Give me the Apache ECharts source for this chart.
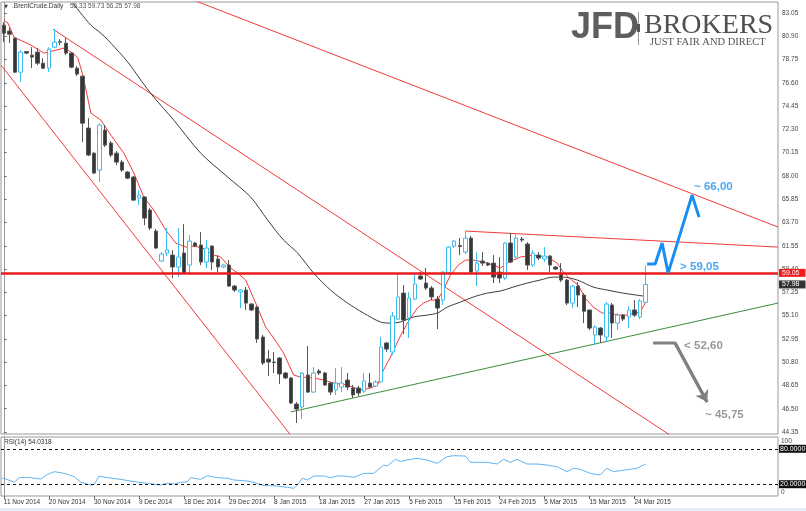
<!DOCTYPE html>
<html><head><meta charset="utf-8">
<script src="https://cdn.jsdelivr.net/npm/echarts@6/dist/echarts.min.js"></script>
<style>html,body{margin:0;padding:0;background:#fff}#c{width:806px;height:511px}</style>
</head><body><div id="c"></div>
<script>
// ---------- DATA ----------
const categories = [
 '11 Nov 2014','12 Nov 2014','13 Nov 2014','14 Nov 2014','16 Nov 2014','17 Nov 2014','18 Nov 2014','19 Nov 2014',
 '20 Nov 2014','21 Nov 2014','23 Nov 2014','24 Nov 2014','25 Nov 2014','26 Nov 2014','27 Nov 2014','28 Nov 2014',
 '30 Nov 2014','1 Dec 2014','2 Dec 2014','3 Dec 2014','4 Dec 2014','5 Dec 2014','7 Dec 2014','8 Dec 2014',
 '9 Dec 2014','10 Dec 2014','11 Dec 2014','12 Dec 2014','14 Dec 2014','15 Dec 2014','16 Dec 2014','17 Dec 2014',
 '18 Dec 2014','19 Dec 2014','21 Dec 2014','22 Dec 2014','23 Dec 2014','24 Dec 2014','26 Dec 2014','28 Dec 2014',
 '29 Dec 2014','30 Dec 2014','31 Dec 2014','2 Jan 2015','4 Jan 2015','5 Jan 2015','6 Jan 2015','7 Jan 2015',
 '8 Jan 2015','9 Jan 2015','11 Jan 2015','12 Jan 2015','13 Jan 2015','14 Jan 2015','15 Jan 2015','16 Jan 2015',
 '18 Jan 2015','19 Jan 2015','20 Jan 2015','21 Jan 2015','22 Jan 2015','23 Jan 2015','25 Jan 2015','26 Jan 2015',
 '27 Jan 2015','28 Jan 2015','29 Jan 2015','30 Jan 2015','1 Feb 2015','2 Feb 2015','3 Feb 2015','4 Feb 2015',
 '5 Feb 2015','6 Feb 2015','8 Feb 2015','9 Feb 2015','10 Feb 2015','11 Feb 2015','12 Feb 2015','13 Feb 2015',
 '15 Feb 2015','16 Feb 2015','17 Feb 2015','18 Feb 2015','19 Feb 2015','20 Feb 2015','22 Feb 2015','23 Feb 2015',
 '24 Feb 2015','25 Feb 2015','26 Feb 2015','27 Feb 2015','1 Mar 2015','2 Mar 2015','3 Mar 2015','4 Mar 2015',
 '5 Mar 2015','6 Mar 2015','8 Mar 2015','9 Mar 2015','10 Mar 2015','11 Mar 2015','12 Mar 2015','13 Mar 2015',
 '15 Mar 2015','16 Mar 2015','17 Mar 2015','18 Mar 2015','19 Mar 2015','20 Mar 2015','22 Mar 2015','23 Mar 2015',
 '24 Mar 2015','25 Mar 2015','26 Mar 2015'
];
const dateTickLabels = ['11 Nov 2014','20 Nov 2014','30 Nov 2014','9 Dec 2014','18 Dec 2014','29 Dec 2014','8 Jan 2015',
 '18 Jan 2015','27 Jan 2015','5 Feb 2015','15 Feb 2015','24 Feb 2015','5 Mar 2015','15 Mar 2015','24 Mar 2015'];
const priceTicks = [83.05,80.90,78.75,76.60,74.45,72.30,70.15,68.00,65.85,63.70,61.55,59.40,57.25,55.10,52.95,50.80,48.65,46.50,44.35];

const opens  = [81.93,81.38,80.73,77.59,79.49,79.16,79.44,78.42,77.96,79.90,80.41,80.27,79.35,77.96,77.22,72.42,70.11,68.54,72.24,71.04,
 70.11,69.28,68.36,67.90,65.96,66.05,64.85,62.91,60.14,60.88,60.69,59.59,60.88,59.77,61.80,61.62,60.05,61.52,60.32,59.59,
 59.77,57.83,57.28,57.46,56.17,55.89,53.12,51.09,50.81,51.18,49.80,49.34,46.93,46.66,49.61,48.04,49.98,49.80,48.87,48.23,
 48.50,49.15,48.41,48.41,48.13,48.87,48.60,48.97,52.57,51.74,54.78,57.18,54.88,56.63,58.75,58.11,57.65,56.63,56.54,59.03,
 61.52,61.57,60.97,62.26,59.22,60.14,59.95,59.95,59.12,58.57,61.80,60.51,62.17,61.71,59.77,60.69,60.32,60.60,59.59,59.03,
 58.39,56.26,57.83,57.00,55.62,53.31,53.95,53.12,56.08,54.41,55.15,54.97,55.62,54.97,56.33];
const closes = [81.19,81.10,77.59,79.44,79.35,78.98,78.42,77.96,79.72,80.36,80.36,79.35,78.05,77.41,72.88,69.93,68.27,72.70,70.85,69.93,
 69.28,68.54,67.80,65.77,66.23,64.11,63.19,61.34,60.79,61.16,59.59,60.51,59.03,61.99,61.52,60.05,61.34,60.05,59.59,59.77,
 57.83,57.46,57.46,56.26,55.62,52.94,50.72,50.81,50.77,49.71,49.34,47.03,46.47,49.80,48.04,49.80,49.80,48.69,48.04,48.87,
 48.87,48.50,47.77,47.95,49.06,48.50,48.97,52.20,52.01,55.06,56.82,54.69,56.72,58.02,58.48,57.65,56.82,55.80,59.12,61.43,
 61.99,61.48,62.26,59.12,59.95,59.95,59.77,58.66,58.57,61.80,60.05,62.26,62.08,59.77,60.88,60.42,60.60,59.77,59.40,58.39,
 56.26,57.83,57.00,55.50,53.95,54.05,53.31,56.17,54.41,55.15,54.78,55.62,55.15,56.45,57.98];
const lows   = [80.36,80.27,77.50,76.67,79.25,77.96,78.24,77.87,77.59,79.81,80.08,79.16,77.96,77.22,71.13,69.83,68.17,67.43,70.67,69.74,
 69.00,68.36,67.71,65.68,65.31,63.46,63.00,61.25,60.05,60.60,58.57,58.66,58.94,59.03,61.43,59.77,59.49,59.31,59.12,59.49,
 57.74,57.28,55.80,55.62,55.52,52.57,50.54,49.52,49.80,48.78,49.24,46.93,45.18,45.55,47.95,47.95,49.61,48.60,47.77,47.77,
 48.04,48.23,47.49,47.67,47.95,48.41,48.50,48.87,51.74,51.46,54.69,53.40,53.03,56.54,58.39,57.46,56.54,53.86,56.08,58.85,
 61.34,60.69,60.79,59.03,57.83,59.68,59.68,58.11,58.11,58.39,59.95,60.42,61.89,59.31,59.59,60.23,60.05,59.12,59.31,58.20,
 56.08,55.80,55.89,54.41,53.77,52.38,52.57,52.66,53.03,53.77,54.60,53.95,54.97,54.78,56.25];
const highs  = [82.21,81.65,80.82,79.62,79.53,79.90,79.81,78.88,79.90,81.56,80.64,80.73,79.44,78.15,77.31,73.34,70.20,72.88,72.70,71.22,
 70.30,69.47,68.45,67.99,66.70,66.14,65.03,63.09,60.97,63.19,61.16,63.19,63.55,62.54,61.89,62.82,62.08,61.62,60.69,59.86,
 60.23,57.92,57.55,57.74,56.26,55.98,53.31,51.92,51.74,51.27,49.89,49.43,47.12,49.89,52.29,50.35,50.17,49.89,48.97,50.26,
 50.35,49.80,48.69,48.60,49.80,49.80,49.15,53.12,52.66,55.43,58.94,57.92,57.28,58.94,59.12,59.49,57.83,56.91,59.22,61.52,
 62.08,62.26,62.91,62.45,60.97,60.97,60.05,60.69,60.51,61.89,62.72,62.72,62.36,61.89,61.16,60.97,61.43,60.69,59.68,59.95,
 58.48,57.92,58.20,57.18,55.62,54.23,54.05,56.35,56.26,55.34,55.25,55.98,56.54,56.63,59.73];

// moving averages: [bar index, price]
const maFast = [[0,82.39],[0.74,82.12],[1.81,80.82],[4.82,80.08],[7.13,79.35],[9.26,79.62],[10.67,79.81],[12.27,79.35],[13.16,78.88],
 [14.04,77.31],[15.46,73.81],[17.24,73.16],[19.01,71.77],[21.32,70.11],[23.09,68.27],[24.86,66.05],[26.64,64.85],[28.77,63.0],
 [30.54,61.8],[32.31,61.43],[33.73,61.52],[35.33,61.34],[37.28,60.69],[38.52,60.51],[40.29,59.49],[41.54,59.03],[42.95,58.39],
 [44.73,56.26],[46.5,54.05],[47.92,53.03],[49.7,51.64],[51.47,49.61],[52.71,49.43],[55.02,49.34],[56.79,49.15],[58.56,48.87],
 [61.05,48.69],[63.35,48.23],[65.13,48.41],[66.37,48.69],[67.43,50.07],[68.67,51.27],[69.91,52.66],[70.8,53.58],[71.69,54.41],
 [72.58,55.15],[73.46,55.8],[74.53,56.26],[75.77,56.54],[77.01,56.54],[78.07,57.46],[79.32,58.85],[80.73,59.77],[81.98,60.23],
 [83.39,60.23],[85.17,60.05],[86.94,59.77],[88.18,59.49],[89.43,59.95],[90.49,60.23],[91.73,60.51],[94.04,60.69],[96.52,60.51],
 [98.29,59.95],[99.36,59.12],[100.6,58.48],[102.02,57.92],[103.26,56.72],[104.68,55.89],[106.27,55.34],[107.69,55.34],
 [109.11,55.15],[110.71,55.15],[112.13,55.34],[113.02,55.43],[114,56.35]];
const maSlow = [[12.27,83.96],[15.46,81.93],[17.24,81.19],[19.01,80.27],[22.03,78.51],[24.33,76.85],[26.64,75.28],[30.18,73.16],
 [34.97,70.11],[39.76,67.9],[43.84,66.05],[46.86,63.92],[49.69,62.08],[52.18,60.88],[55.02,59.03],[58.03,57.46],[61.05,56.26],
 [63.88,55.34],[66.9,54.51],[68.67,54.41],[70.45,54.51],[72.75,54.97],[75.23,55.15],[77.01,55.34],[78.78,55.89],[81.09,56.35],
 [83.39,56.82],[85.88,57.18],[88.18,57.37],[90.49,57.74],[92.97,58.11],[95.28,58.39],[97.58,58.66],[99.36,58.66],[101.84,58.39],
 [104.68,57.74],[107.16,57.46],[110,57.18],[113.55,56.91],[114,56.88]];

// drawn trend lines: [bar index, price]
const channelMid   = [[8.72,81.56],[118.3,44.07]];
const channelLow   = [[-0.5,78.24],[50.94,44.07]];
const channelTop   = [[33.73,84.24],[137.5,63.28]];
const resistance   = [[81.98,62.91],[137.5,61.43]];
const supportLine  = [[50.94,46.20],[137.5,56.26]];
const levelLine = 59.05;

// scenario drawings
const bullPath = [[114.26,59.86],[115.68,59.86],[116.92,61.80],[117.98,59.03],[122.24,66.23],[123.48,64.20]];
const bearPath = [[115.32,52.57],[119.22,52.57],[124.9,47.12]];
const notes = [
 {x:122.59, y:67.00, text:'~ 66,00', kind:'bull'},
 {x:120.11, y:59.61, text:'> 59,05', kind:'bull'},
 {x:120.82, y:52.29, text:'< 52,60', kind:'bear'},
 {x:124.54, y:45.98, text:'~ 45,75', kind:'bear'}
];

// RSI(14): [bar index, value]
const rsi = [[-0.3,30.0],[0.39,28.8],[1.86,23.2],[2.75,31.0],[4.24,31.6],[6.59,28.8],[7.78,36.7],[8.95,41.2],[10.14,39.5],
 [11.33,36.7],[12.5,32.7],[13.69,23.2],[15.46,18.6],[16.05,19.8],[16.94,33.9],[18.43,31.0],[20.78,28.2],[23.14,24.3],[25.52,21.5],
 [27.88,18.6],[29.07,21.5],[30.24,20.3],[31.43,23.2],[32.61,24.3],[33.2,31.0],[34.97,28.2],[36.16,34.4],[37.94,31.0],[39.71,30.0],
 [40.88,27.1],[43.26,25.4],[44.43,23.2],[46.2,17.5],[47.39,17.5],[48.58,17.0],[50.35,14.7],[51.52,13.0],[52.12,18.6],[53.01,30.0],
 [53.9,27.1],[55.07,33.9],[56.84,33.9],[58.03,31.0],[59.22,33.9],[60.39,33.9],[62.16,31.6],[63.94,38.4],[65.71,38.4],[67.49,52.5],
 [68.09,50.8],[69.56,62.2],[70.45,58.5],[71.64,61.0],[73.41,63.9],[75.18,61.0],[76.96,55.4],[78.73,66.6],[79.9,68.3],[81.98,67.8],
 [82.86,57.1],[85.82,57.1],[87.6,54.2],[88.77,62.2],[89.96,57.1],[91.14,62.2],[92.92,54.2],[94.69,54.2],[96.46,52.5],[98.24,49.7],
 [100.01,41.2],[101.19,47.0],[102.37,45.3],[104.15,38.4],[105.92,35.6],[107.11,47.0],[108.28,41.2],[109.47,42.9],[111.24,45.3],
 [112.43,47.0],[114,54.03]];
const rsiLastLabel = '54.0318';
const rsiLevels = [80, 20];
const instrument = '.BrentCrude.Daily';

// ---------- CHART ----------
const N_SLOTS = 138;
const cats = categories.concat(Array.from({length: N_SLOTS - categories.length}, (_, i) => 'f' + i));
const tickSet = new Set(dateTickLabels);
const showTick = (idx, val) => tickSet.has(val);
const last = opens.length - 1;
const FONT = 'Liberation Sans';
const BLUE = '#1b8ff0', GRAY = '#808080';

const candleData = opens.map((o, i) => [o, closes[i], lows[i], highs[i]]);

function lineSeries(data, color, width, z, extra) {
  return Object.assign({type:'line', xAxisIndex:1, yAxisIndex:0, data, showSymbol:false, symbol:'none',
    lineStyle:{color, width}, silent:true, z, animation:false}, extra || {});
}

const option = {
  animation:false,
  backgroundColor:'#ffffff',
  grid:[
    {left:1, right:28, top:2, height:432, show:true, borderColor:'#9a9a9a', borderWidth:1, backgroundColor:'#fff'},
    {left:1, right:28, top:437, height:59, show:true, borderColor:'#9a9a9a', borderWidth:1, backgroundColor:'#fff'}
  ],
  xAxis:[
    {type:'category', gridIndex:0, data:cats, boundaryGap:true, show:false},
    {type:'value', gridIndex:0, min:-0.5, max:N_SLOTS-0.5, show:false},
    {type:'category', gridIndex:1, data:cats, boundaryGap:true,
      axisLine:{show:false},
      axisTick:{show:true, alignWithLabel:true, interval:showTick, length:3, lineStyle:{color:'#666'}},
      axisLabel:{interval:showTick, align:'left', fontSize:6.5, fontFamily:FONT, color:'#333', margin:3},
      splitLine:{show:false}},
    {type:'value', gridIndex:1, min:-0.5, max:N_SLOTS-0.5, show:false}
  ],
  yAxis:[
    {type:'value', gridIndex:0, position:'right', min:44.165, max:84.07, scale:true,
      splitLine:{show:false},
      axisLine:{show:true, lineStyle:{color:'#9a9a9a'}},
      axisTick:{show:true, length:3, customValues:priceTicks, lineStyle:{color:'#777'}},
      axisLabel:{customValues:priceTicks, formatter:v => v.toFixed(2), fontSize:6.5, fontFamily:FONT, color:'#444', margin:4}},
    {type:'value', gridIndex:1, position:'right', min:0, max:100,
      splitLine:{show:false},
      axisLine:{show:true, lineStyle:{color:'#9a9a9a'}},
      axisTick:{show:false},
      axisLabel:{customValues:[0,100], fontSize:6.5, fontFamily:FONT, color:'#444', margin:3,
        formatter:v => v === 100 ? '{a|100}' : '{b|0}',
        rich:{a:{padding:[8,0,0,0], fontSize:6.5, color:'#444'}, b:{padding:[0,0,8,0], fontSize:6.5, color:'#444'}}}}
  ],
  graphic:[
    {type:'text', left:4, top:4, silent:true, style:{text:'\u25BC', font:'5px "DejaVu Sans"', fill:'#333'}},
    {type:'text', left:12, top:3, silent:true, style:{text:instrument, font:'6.5px "'+FONT+'"', fill:'#333'}},
    {type:'text', left:70, top:3, silent:true, style:{text:[opens[last],highs[last],lows[last],closes[last]].map(v=>v.toFixed(2)).join(' '), font:'6.5px "'+FONT+'"', fill:'#555'}},
    {type:'text', left:4, top:439, silent:true, style:{text:'RSI(14) ' + rsiLastLabel, font:'6.5px "'+FONT+'"', fill:'#333'}},
    {type:'text', left:571, top:10, silent:true, z:100, style:{text:'JFD', font:'bold 36px "Liberation Sans"', fill:'#5e5e5e'}},
    {type:'rect', left:638, top:12, silent:true, z:100, shape:{width:1, height:33}, style:{fill:'#9a9a9a'}},
    {type:'rect', left:637, top:24, silent:true, z:100, shape:{width:3, height:8}, style:{fill:'#555'}},
    {type:'text', left:644, top:12, silent:true, z:100, style:{text:'BROKERS', font:'28px "Liberation Serif"', fill:'#505050'}},
    {type:'text', left:650, top:37, silent:true, z:100, style:{text:'JUST FAIR AND DIRECT', font:'10.5px "Liberation Serif"', fill:'#555'}},
    {type:'rect', left:0, bottom:0, silent:true, shape:{width:806, height:3}, style:{fill:'#e4edf7'}}
  ],
  series:[
    lineSeries(channelTop, '#f23a3a', 1, 2),
    lineSeries(channelMid, '#f23a3a', 1, 2),
    lineSeries(channelLow, '#f23a3a', 1, 2),
    lineSeries(resistance, '#f23a3a', 1, 2),
    lineSeries(supportLine, '#3c8c3c', 1, 2),
    lineSeries(maSlow, '#3c3c3c', 1, 3, {smooth:0.3}),
    lineSeries(maFast, '#f23a3a', 1, 3),
    {type:'candlestick', xAxisIndex:0, yAxisIndex:0, data:candleData, barWidth:4, z:4, silent:true,
      itemStyle:{color:'#ffffff', color0:'#363636', borderColor:'#3cbcf0', borderColor0:'#555555', borderWidth:1},
      markLine:{symbol:'none', silent:true, animation:false, z:5,
        data:[
          {yAxis:levelLine, lineStyle:{color:'#e81c1c', width:2.5, type:'solid'},
            label:{show:true, position:'end', distance:1, formatter:levelLine.toFixed(2), color:'#fff', backgroundColor:'#f01c1c',
              padding:[1,6,0,3], fontSize:7, fontFamily:FONT}},
          {yAxis:closes[last], lineStyle:{color:'rgba(0,0,0,0)', width:0},
            label:{show:true, position:'end', distance:1, formatter:closes[last].toFixed(2), color:'#fff', backgroundColor:'#333',
              padding:[1,6,0,3], fontSize:7, fontFamily:FONT}}
        ]}},
    lineSeries(bullPath, BLUE, 3, 8),
    lineSeries(bearPath, GRAY, 3, 8, {
      markLine:{symbol:['none','arrow'], symbolSize:11, silent:true, animation:false,
        lineStyle:{color:GRAY, width:3, type:'solid'}, label:{show:false},
        data:[[{coord:bearPath[1]},{coord:bearPath[2]}]]}}),
    {type:'scatter', xAxisIndex:1, yAxisIndex:0, symbolSize:0, silent:true, z:9,
      data:notes.map(n => ({value:[n.x, n.y], label:{color: n.kind === 'bull' ? BLUE : GRAY}})),
      label:{show:true, position:'right', distance:0, fontSize:11.5, fontWeight:'bold', fontFamily:FONT,
        formatter:p => notes[p.dataIndex].text}},
    {type:'line', xAxisIndex:3, yAxisIndex:1, data:rsi, showSymbol:false, symbol:'none', silent:true,
      lineStyle:{color:'#62b4f0', width:1},
      markLine:{symbol:'none', silent:true, animation:false,
        lineStyle:{color:'#111', width:1, type:[3,3]},
        data:rsiLevels.map(v => ({yAxis:v, label:{show:true, position:'end', distance:1, formatter:v.toFixed(4),
          color:'#fff', backgroundColor:'#111', padding:[1,1,0,1], fontSize:7, fontFamily:FONT}}))}}
  ]
};
const chart = echarts.init(document.getElementById('c'));
chart.setOption(option);
</script></body></html>
